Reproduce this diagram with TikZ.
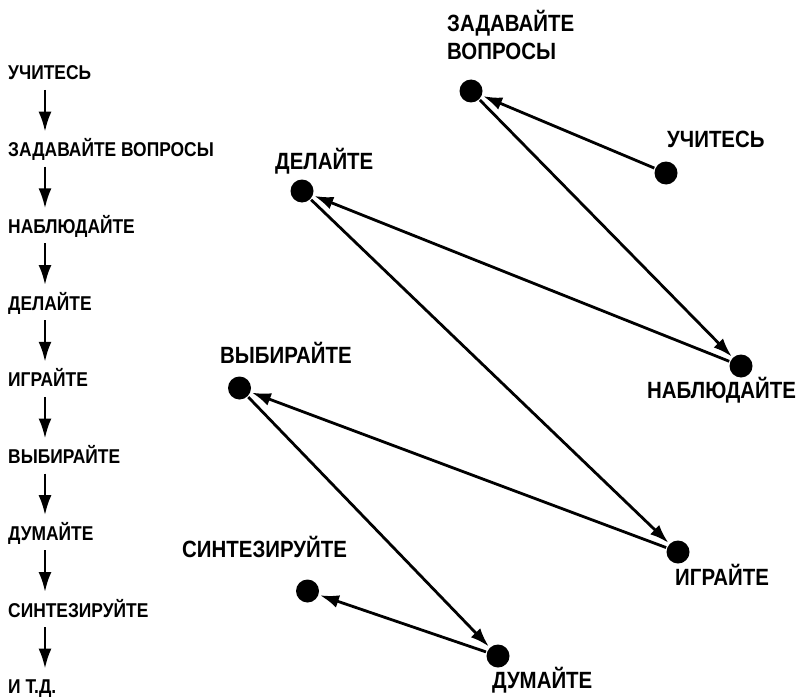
\documentclass[tikz,border=0pt]{standalone}
\usepackage{fontspec}
\setmainfont{Liberation Sans}[FakeStretch=0.87]
\usetikzlibrary{arrows.meta}
\tikzset{
  dot/.style={circle,fill=black,inner sep=0pt,minimum size=23pt},
  leftlbl/.style={anchor=base west,inner sep=0pt,font=\fontsize{20}{22}\selectfont\bfseries},
  rightlbl/.style={anchor=base west,inner sep=0pt,font=\fontsize{23.5}{28}\selectfont\bfseries},
  conn/.style={line width=2.8pt,-{Latex[length=19pt,width=13pt]},shorten >=1.5pt,shorten <=1pt},
  colarrow/.style={line width=2.6pt,-{Latex[length=20pt,width=13pt]}}
}
\begin{document}
\begin{tikzpicture}[x=1pt,y=-1pt]
\useasboundingbox (0,0) rectangle (797,698);
% left column
\node[leftlbl] (l1) at (8,80) {УЧИТЕСЬ};
\node[leftlbl] (l2) at (8,156.7) {ЗАДАВАЙТЕ ВОПРОСЫ};
\node[leftlbl] (l3) at (8,233.4) {НАБЛЮДАЙТЕ};
\node[leftlbl] (l4) at (8,310) {ДЕЛАЙТЕ};
\node[leftlbl] (l5) at (8,386.8) {ИГРАЙТЕ};
\node[leftlbl] (l6) at (8,463.5) {ВЫБИРАЙТЕ};
\node[leftlbl] (l7) at (8,540.2) {ДУМАЙТЕ};
\node[leftlbl] (l8) at (8,617) {СИНТЕЗИРУЙТЕ};
\node[leftlbl] (l9) at (8,693.6) {И Т.Д.};
\foreach \i/\j in {1/2,2/3,3/4,4/5,5/6,6/7,7/8,8/9}{
  \coordinate (s\i) at ([yshift=-10pt]l\i.base west -| 45,0);
  \coordinate (e\i) at ([yshift=25pt]l\j.base west -| 45,0);
  \draw[colarrow] (s\i) -- (e\i);
}
% right diagram dots
\node[dot] (zad) at (471,91) {};
\node[dot] (uch) at (666,173) {};
\node[dot] (del) at (302,191) {};
\node[dot] (nab) at (741,366) {};
\node[dot] (vyb) at (239.5,388) {};
\node[dot] (igr) at (678,552) {};
\node[dot] (sin) at (307.5,591) {};
\node[dot] (dum) at (498,656) {};
% labels
\node[rightlbl] (tzad1) at (447,32) {ЗАДАВАЙТЕ};
\node[rightlbl] (tzad2) at (447,60) {ВОПРОСЫ};
\node[rightlbl] (tuch) at (667,147) {УЧИТЕСЬ};
\node[rightlbl] (tdel) at (275,169) {ДЕЛАЙТЕ};
\node[rightlbl] (tnab) at (647,398) {НАБЛЮДАЙТЕ};
\node[rightlbl] (tvyb) at (220,363) {ВЫБИРАЙТЕ};
\node[rightlbl] (tigr) at (675,585) {ИГРАЙТЕ};
\node[rightlbl] (tsin) at (182,557) {СИНТЕЗИРУЙТЕ};
\node[rightlbl] (tdum) at (492,688) {ДУМАЙТЕ};
% connectors
\draw[conn] (uch) -- (zad);
\draw[conn] (zad) -- (nab);
\draw[conn] (nab) -- (del);
\draw[conn] (del) -- (igr);
\draw[conn] (igr) -- (vyb);
\draw[conn] (vyb) -- (dum);
\draw[conn] (dum) -- (sin);
\end{tikzpicture}
\end{document}
